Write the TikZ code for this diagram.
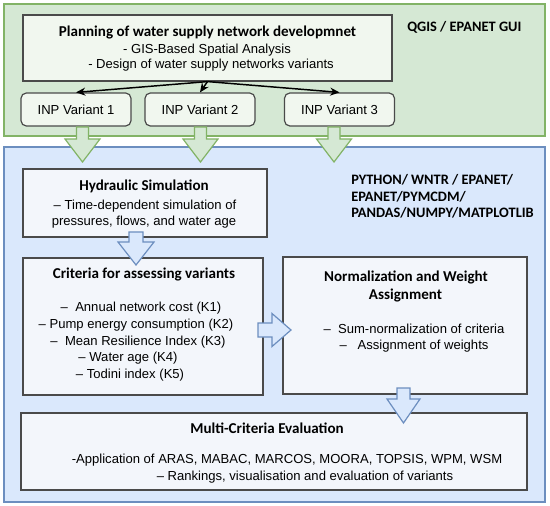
\documentclass[tikz,border=0pt]{standalone}
\usepackage{fontspec}
\setmainfont{Liberation Sans}
\newfontfamily\titlefont{Carlito}
\usetikzlibrary{arrows.meta}
\definecolor{gfill}{HTML}{D5E8D4}
\definecolor{gline}{HTML}{82B366}
\definecolor{bfill}{HTML}{DAE8FC}
\definecolor{bline}{HTML}{6C8EBF}
\definecolor{gbox}{HTML}{F1F7EF}
\definecolor{bbox}{HTML}{F3F6FB}
\definecolor{edgec}{HTML}{4A4A4A}
\newcommand{\blockdown}[7]{%
  \draw[#1] (#2-#6,#3) -- (#2+#6,#3) -- (#2+#6,#4) -- (#2+#7,#4) -- (#2,#5)
    -- (#2-#7,#4) -- (#2-#6,#4) -- cycle;}
\newcommand{\blockright}[7]{%
  \draw[#1] (#3,#2-#6) -- (#3,#2+#6) -- (#4,#2+#6) -- (#4,#2+#7) -- (#5,#2)
    -- (#4,#2-#7) -- (#4,#2-#6) -- cycle;}
\begin{document}
\begin{tikzpicture}[x=0.75pt,y=-0.75pt,
  gregion/.style={draw=gline, fill=gfill, line width=1pt, inner sep=0pt},
  bregion/.style={draw=bline, fill=bfill, line width=1pt, inner sep=0pt},
  gboxs/.style={draw=edgec, fill=gbox, line width=0.9pt, inner sep=0pt},
  vboxs/.style={draw=edgec, fill=gbox, line width=0.9pt, rounded corners=4pt,
    minimum width=82.5pt, minimum height=24.75pt, inner sep=0pt,
    font=\fontsize{9.8}{11}\selectfont},
  bboxs/.style={draw=edgec, fill=bbox, line width=0.9pt, inner sep=0pt},
  ttl/.style={font=\titlefont\bfseries\fontsize{11.3}{13}\selectfont, inner sep=0pt},
  tool/.style={font=\titlefont\bfseries\fontsize{10.8}{12.5}\selectfont, inner sep=0pt, anchor=west},
  body/.style={font=\fontsize{9.8}{11}\selectfont, inner sep=0pt},
  conn/.style={draw=black, line width=1.1pt, -{Stealth[length=7pt,width=6pt]}},
  garrow/.style={draw=gline, fill=gfill, line width=0.9pt},
  barrow/.style={draw=bline, fill=bfill, line width=0.9pt}]
\useasboundingbox (0,0) rectangle (550,506);
\fill[white] (0,0) rectangle (550,506);

% regions
\node[gregion, minimum width=405.75pt, minimum height=99pt] (green) at (274.5,70) {};
\node[bregion, minimum width=405.75pt, minimum height=266.25pt] (blue) at (274.5,324.5) {};

% planning
\node[gboxs, minimum width=276.75pt, minimum height=49.5pt] (plan) at (207.5,48) {};
\node[ttl] (planT) at (207.5,32) {Planning of water supply network developmnet};
\node[body] (planA) at (207,50) {- GIS-Based Spatial Analysis};
\node[body] (planB) at (211,65) {- Design of water supply networks variants};

\node[tool] (qgis) at (407,27) {QGIS / EPANET GUI};

% variants
\node[vboxs] (v1) at (76,109.5) {INP Variant 1};
\node[vboxs] (v2) at (200,109.5) {INP Variant 2};
\node[vboxs] (v3) at (339.5,109.5) {INP Variant 3};

\draw[conn] (plan.south) -- (v1.north);
\draw[conn] (plan.south) -- (v2.north);
\draw[conn] (plan.south) -- (v3.north);

% green block arrows
\blockdown{garrow}{82.5}{127}{139}{162}{6}{17.5}
\blockdown{garrow}{200.5}{127}{139}{162}{6}{17.5}
\blockdown{garrow}{334}{127}{139}{162}{6}{17.5}

% tools text
\node[tool] (py1) at (351,180) {PYTHON/ WNTR / EPANET/};
\node[tool] (py2) at (351,197) {EPANET/PYMCDM/};
\node[tool] (py3) at (351,213) {PANDAS/NUMPY/MATPLOTLIB};

% hydraulic
\node[bboxs, minimum width=183pt, minimum height=51pt] (hyd) at (145,203) {};
\node[ttl] (hydT) at (144,186) {Hydraulic Simulation};
\node[body] (hydA) at (145,206) {– Time-dependent simulation of};
\node[body] (hydB) at (144,222) {pressures, flows, and water age};

% criteria
\node[bboxs, minimum width=180pt, minimum height=102.75pt] (crit) at (143,326.5) {};
\node[ttl] (critT) at (144,274) {Criteria for assessing variants};
\node[body] (c1) at (141,308) {–\ \ Annual network cost (K1)};
\node[body] (c2) at (136,325) {– Pump energy consumption (K2)};
\node[body] (c3) at (138,342) {–\ \ Mean Resilience Index (K3)};
\node[body] (c4) at (128,358) {– Water age (K4)};
\node[body] (c5) at (130,375) {– Todini index (K5)};

% normalization
\node[bboxs, minimum width=183pt, minimum height=102.75pt] (norm) at (405,325.5) {};
\node[ttl] (normT1) at (406,277) {Normalization and Weight};
\node[ttl] (normT2) at (405.5,295) {Assignment};
\node[body] (n1) at (414,329) {–\ \ Sum-normalization of criteria};
\node[body] (n2) at (414,346) {–\ \ \ Assignment of weights};

% multi
\node[bboxs, minimum width=379.5pt, minimum height=57.75pt] (multi) at (274,451.5) {};
\node[ttl] (multiT) at (267,428) {Multi-Criteria Evaluation};
\node[body] (m1) at (287,460) {-Application of ARAS, MABAC, MARCOS, MOORA, TOPSIS, WPM, WSM};
\node[body] (m2) at (305,477) {– Rankings, visualisation and evaluation of variants};

% blue block arrows
\blockdown{barrow}{136}{232}{242}{265}{7}{18}
\blockright{barrow}{330}{258}{272}{291}{7}{16.5}
\blockdown{barrow}{403.5}{388}{399}{423}{6.5}{16.5}
\end{tikzpicture}
\end{document}
